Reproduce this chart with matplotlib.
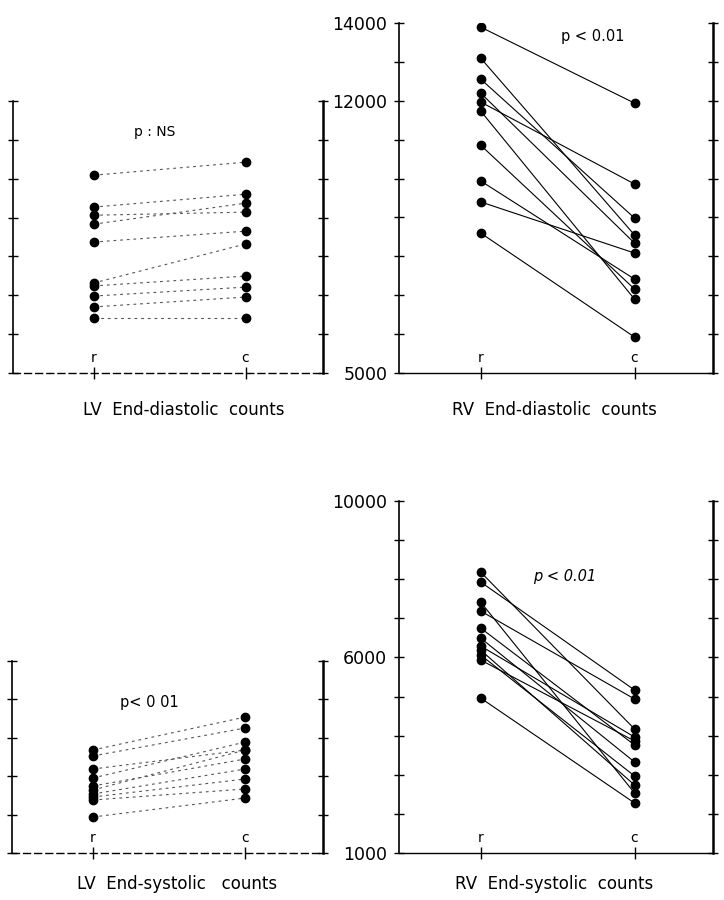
import numpy as np
import matplotlib
matplotlib.use("Agg")
import matplotlib.pyplot as plt

plt.rcParams['font.family'] = ['DejaVu Sans']

# r = rest, c = exercise ; counts per patient
lv_ed_rest = [10090, 9270, 9060, 8830, 8370, 7315, 7240, 6980, 6700, 6415]
lv_ed_exer = [10425, 9600, 9140, 9370, 8650, 8320, 7495, 7210, 6955, 6415]

rv_ed_rest = [13896, 13100, 12560, 12200, 11970, 11740, 10860, 9940, 9400, 8600]
rv_ed_exer = [11940, 8550, 8985, 8340, 9860, 6900, 7160, 7415, 8085, 5925]

lv_es_rest = [3682, 3526, 3187, 2953, 2745, 2641, 2536, 2458, 2380, 1937]
lv_es_exer = [4541, 4255, 3682, 3890, 3448, 3682, 3187, 2927, 2667, 2432]

rv_es_rest = [8185, 7930, 7418, 7188, 6753, 6497, 6293, 6190, 6063, 5935, 4963]
rv_es_exer = [4171, 5168, 2534, 4938, 3762, 3327, 3966, 2739, 2969, 3864, 2279]

titles = ["LV  End-diastolic  counts", "RV  End-diastolic  counts",
          "LV  End-systolic   counts", "RV  End-systolic  counts"]
p_texts = ["p : NS", "p < 0.01", "p< 0 01", "p < 0.01"]

W, H = 724, 900
fig = plt.figure(figsize=(W / 100, H / 100), dpi=100)


def box(x0, y0, x1, y1):
    return [x0 / W, 1 - y1 / H, (x1 - x0) / W, (y1 - y0) / H]


def panel(rect, lo, hi, rest, exer, dashed, labels=None):
    ax = fig.add_axes(rect)
    ax.set_xlim(-0.53, 1.51)
    ax.set_ylim(lo, hi)
    ls = (0, (2.5, 3.5)) if dashed else '-'
    col = '#555555' if dashed else 'black'
    for a, b in zip(rest, exer):
        ax.plot([0, 1], [a, b], ls=ls, color=col, lw=0.8, zorder=2)
    ax.plot(np.zeros(len(rest)), rest, 'o', color='black', ms=6, zorder=3)
    ax.plot(np.ones(len(exer)), exer, 'o', color='black', ms=6, zorder=3)

    ax.spines['top'].set_visible(False)
    ax.spines['left'].set_linewidth(1.2)
    ax.spines['right'].set_linewidth(1.8)
    ax.spines['bottom'].set_linewidth(1.0)
    if dashed:
        ax.spines['bottom'].set_linestyle((0, (5, 3)))
    ticks = np.arange(lo, hi + 1, 1000)
    ax.set_yticks(ticks)
    if labels:
        ax.set_yticklabels([str(int(t)) if int(t) in labels else '' for t in ticks])
    else:
        ax.set_yticklabels([])
    ax.tick_params(axis='y', direction='inout', length=7, width=1.0,
                   left=True, right=True, labelsize=12.5, pad=5)
    ax.set_xticks([0, 1])
    ax.set_xticklabels([])
    ax.tick_params(axis='x', direction='inout', length=8, width=1.0)
    for x, s in [(0, 'r'), (1, 'c')]:
        ax.annotate(s, xy=(x, lo), xytext=(0, 6), textcoords='offset points',
                    ha='center', va='bottom', fontsize=10)
    return ax


ax1 = panel(box(13, 101, 323, 373), 5000, 12000, lv_ed_rest, lv_ed_exer, True)
ax2 = panel(box(399, 23, 713, 373), 5000, 14000, rv_ed_rest, rv_ed_exer, False,
            labels=[14000, 12000, 5000])
ax3 = panel(box(12, 661, 323, 853), 1000, 6000, lv_es_rest, lv_es_exer, True)
ax4 = panel(box(399, 501, 713, 853), 1000, 10000, rv_es_rest, rv_es_exer, False,
            labels=[10000, 6000, 1000])

# p values
fig.text(155 / W, 1 - 132 / H, p_texts[0], ha='center', va='center', fontsize=10)
fig.text(593 / W, 1 - 37 / H, p_texts[1], ha='center', va='center', fontsize=10.5)
fig.text(149 / W, 1 - 703 / H, p_texts[2], ha='center', va='center', fontsize=10.5)
fig.text(565 / W, 1 - 577 / H, p_texts[3], ha='center', va='center', fontsize=10.5,
         style='italic')

# panel titles
fig.text(184 / W, 1 - 410 / H, titles[0], ha='center', va='center', fontsize=12)
fig.text(554 / W, 1 - 410 / H, titles[1], ha='center', va='center', fontsize=12)
fig.text(177 / W, 1 - 884 / H, titles[2], ha='center', va='center', fontsize=12)
fig.text(554 / W, 1 - 884 / H, titles[3], ha='center', va='center', fontsize=12)

fig.savefig("out.png", dpi=100)
